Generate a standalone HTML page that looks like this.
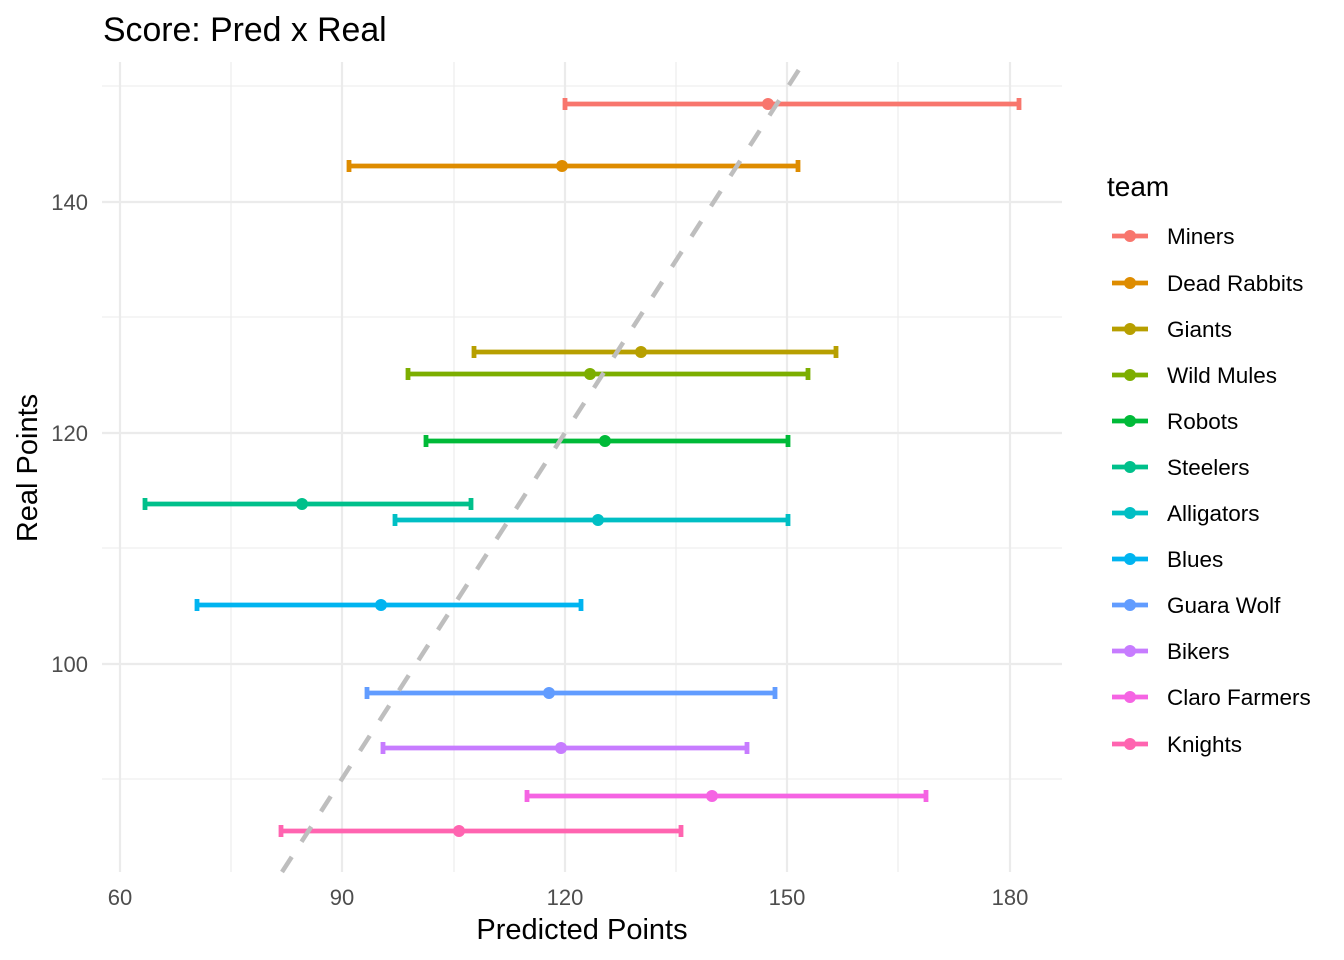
<!DOCTYPE html><html><head><style>body{margin:0;background:#fff}svg{display:block}</style></head><body>
<svg width="1344" height="960" xmlns="http://www.w3.org/2000/svg" font-family="Liberation Sans, Arial, sans-serif">
<rect width="1344" height="960" fill="#fff"/>
<g stroke="#EBEBEB" stroke-width="1.1">
<line x1="231" y1="62" x2="231" y2="872"/><line x1="454" y1="62" x2="454" y2="872"/><line x1="676" y1="62" x2="676" y2="872"/><line x1="898" y1="62" x2="898" y2="872"/>
<line x1="102" y1="86" x2="1062" y2="86"/><line x1="102" y1="317" x2="1062" y2="317"/><line x1="102" y1="548" x2="1062" y2="548"/><line x1="102" y1="779" x2="1062" y2="779"/>
</g>
<g stroke="#EBEBEB" stroke-width="2.2">
<line x1="120" y1="62" x2="120" y2="872"/><line x1="342" y1="62" x2="342" y2="872"/><line x1="565" y1="62" x2="565" y2="872"/><line x1="787" y1="62" x2="787" y2="872"/><line x1="1010" y1="62" x2="1010" y2="872"/>
<line x1="102" y1="202" x2="1062" y2="202"/><line x1="102" y1="433" x2="1062" y2="433"/><line x1="102" y1="664" x2="1062" y2="664"/>
</g>
<g stroke-width="4.8">
<g stroke="#F8766D" fill="#F8766D"><line x1="565" y1="104" x2="1019" y2="104"/><line x1="565" y1="98" x2="565" y2="110"/><line x1="1019" y1="98" x2="1019" y2="110"/><circle cx="768" cy="104" r="6" stroke="none"/></g>
<g stroke="#DE8C00" fill="#DE8C00"><line x1="349" y1="166" x2="798" y2="166"/><line x1="349" y1="160" x2="349" y2="172"/><line x1="798" y1="160" x2="798" y2="172"/><circle cx="562" cy="166" r="6" stroke="none"/></g>
<g stroke="#B79F00" fill="#B79F00"><line x1="474" y1="352" x2="836" y2="352"/><line x1="474" y1="346" x2="474" y2="358"/><line x1="836" y1="346" x2="836" y2="358"/><circle cx="641" cy="352" r="6" stroke="none"/></g>
<g stroke="#7CAE00" fill="#7CAE00"><line x1="408" y1="374" x2="808" y2="374"/><line x1="408" y1="368" x2="408" y2="380"/><line x1="808" y1="368" x2="808" y2="380"/><circle cx="590" cy="374" r="6" stroke="none"/></g>
<g stroke="#00BA38" fill="#00BA38"><line x1="426" y1="441" x2="788" y2="441"/><line x1="426" y1="435" x2="426" y2="447"/><line x1="788" y1="435" x2="788" y2="447"/><circle cx="605" cy="441" r="6" stroke="none"/></g>
<g stroke="#00C08B" fill="#00C08B"><line x1="145" y1="504" x2="471" y2="504"/><line x1="145" y1="498" x2="145" y2="510"/><line x1="471" y1="498" x2="471" y2="510"/><circle cx="302" cy="504" r="6" stroke="none"/></g>
<g stroke="#00BFC4" fill="#00BFC4"><line x1="395" y1="520" x2="788" y2="520"/><line x1="395" y1="514" x2="395" y2="526"/><line x1="788" y1="514" x2="788" y2="526"/><circle cx="598" cy="520" r="6" stroke="none"/></g>
<g stroke="#00B4F0" fill="#00B4F0"><line x1="197" y1="605" x2="581" y2="605"/><line x1="197" y1="599" x2="197" y2="611"/><line x1="581" y1="599" x2="581" y2="611"/><circle cx="381" cy="605" r="6" stroke="none"/></g>
<g stroke="#619CFF" fill="#619CFF"><line x1="367" y1="693" x2="775" y2="693"/><line x1="367" y1="687" x2="367" y2="699"/><line x1="775" y1="687" x2="775" y2="699"/><circle cx="549" cy="693" r="6" stroke="none"/></g>
<g stroke="#C77CFF" fill="#C77CFF"><line x1="383" y1="748" x2="747" y2="748"/><line x1="383" y1="742" x2="383" y2="754"/><line x1="747" y1="742" x2="747" y2="754"/><circle cx="561" cy="748" r="6" stroke="none"/></g>
<g stroke="#F564E3" fill="#F564E3"><line x1="527" y1="796" x2="926" y2="796"/><line x1="527" y1="790" x2="527" y2="802"/><line x1="926" y1="790" x2="926" y2="802"/><circle cx="712" cy="796" r="6" stroke="none"/></g>
<g stroke="#FF64B0" fill="#FF64B0"><line x1="281" y1="831" x2="681" y2="831"/><line x1="281" y1="825" x2="281" y2="837"/><line x1="681" y1="825" x2="681" y2="837"/><circle cx="459" cy="831" r="6" stroke="none"/></g>
</g>
<line x1="282" y1="872" x2="800" y2="68" stroke="#BEBEBE" stroke-width="4.5" stroke-dasharray="18 18"/>
<g fill="#4D4D4D" font-size="22" text-anchor="end">
<text x="88" y="210">140</text><text x="88" y="441">120</text><text x="88" y="672">100</text>
</g>
<g fill="#4D4D4D" font-size="22" text-anchor="middle">
<text x="120" y="905">60</text><text x="342" y="905">90</text><text x="565" y="905">120</text><text x="787" y="905">150</text><text x="1010" y="905">180</text>
</g>
<text x="582" y="939" font-size="29" text-anchor="middle" fill="#000">Predicted Points</text>
<text transform="translate(37,468) rotate(-90)" font-size="29" text-anchor="middle" fill="#000">Real Points</text>
<text x="103" y="41" font-size="33.8" fill="#000">Score: Pred x Real</text>
<text x="1107" y="196" font-size="28" fill="#000">team</text>
<g font-size="22.5" fill="#000">
<g transform="translate(0,236)"><line x1="1112" x2="1148" stroke="#F8766D" stroke-width="4.8"/><circle cx="1130" r="6" fill="#F8766D"/><text x="1167" y="8">Miners</text></g>
<g transform="translate(0,283)"><line x1="1112" x2="1148" stroke="#DE8C00" stroke-width="4.8"/><circle cx="1130" r="6" fill="#DE8C00"/><text x="1167" y="8">Dead Rabbits</text></g>
<g transform="translate(0,329)"><line x1="1112" x2="1148" stroke="#B79F00" stroke-width="4.8"/><circle cx="1130" r="6" fill="#B79F00"/><text x="1167" y="8">Giants</text></g>
<g transform="translate(0,375)"><line x1="1112" x2="1148" stroke="#7CAE00" stroke-width="4.8"/><circle cx="1130" r="6" fill="#7CAE00"/><text x="1167" y="8">Wild Mules</text></g>
<g transform="translate(0,421)"><line x1="1112" x2="1148" stroke="#00BA38" stroke-width="4.8"/><circle cx="1130" r="6" fill="#00BA38"/><text x="1167" y="8">Robots</text></g>
<g transform="translate(0,467)"><line x1="1112" x2="1148" stroke="#00C08B" stroke-width="4.8"/><circle cx="1130" r="6" fill="#00C08B"/><text x="1167" y="8">Steelers</text></g>
<g transform="translate(0,513)"><line x1="1112" x2="1148" stroke="#00BFC4" stroke-width="4.8"/><circle cx="1130" r="6" fill="#00BFC4"/><text x="1167" y="8">Alligators</text></g>
<g transform="translate(0,559)"><line x1="1112" x2="1148" stroke="#00B4F0" stroke-width="4.8"/><circle cx="1130" r="6" fill="#00B4F0"/><text x="1167" y="8">Blues</text></g>
<g transform="translate(0,605)"><line x1="1112" x2="1148" stroke="#619CFF" stroke-width="4.8"/><circle cx="1130" r="6" fill="#619CFF"/><text x="1167" y="8">Guara Wolf</text></g>
<g transform="translate(0,651)"><line x1="1112" x2="1148" stroke="#C77CFF" stroke-width="4.8"/><circle cx="1130" r="6" fill="#C77CFF"/><text x="1167" y="8">Bikers</text></g>
<g transform="translate(0,697)"><line x1="1112" x2="1148" stroke="#F564E3" stroke-width="4.8"/><circle cx="1130" r="6" fill="#F564E3"/><text x="1167" y="8">Claro Farmers</text></g>
<g transform="translate(0,744)"><line x1="1112" x2="1148" stroke="#FF64B0" stroke-width="4.8"/><circle cx="1130" r="6" fill="#FF64B0"/><text x="1167" y="8">Knights</text></g>
</g>
</svg>
</body></html>
